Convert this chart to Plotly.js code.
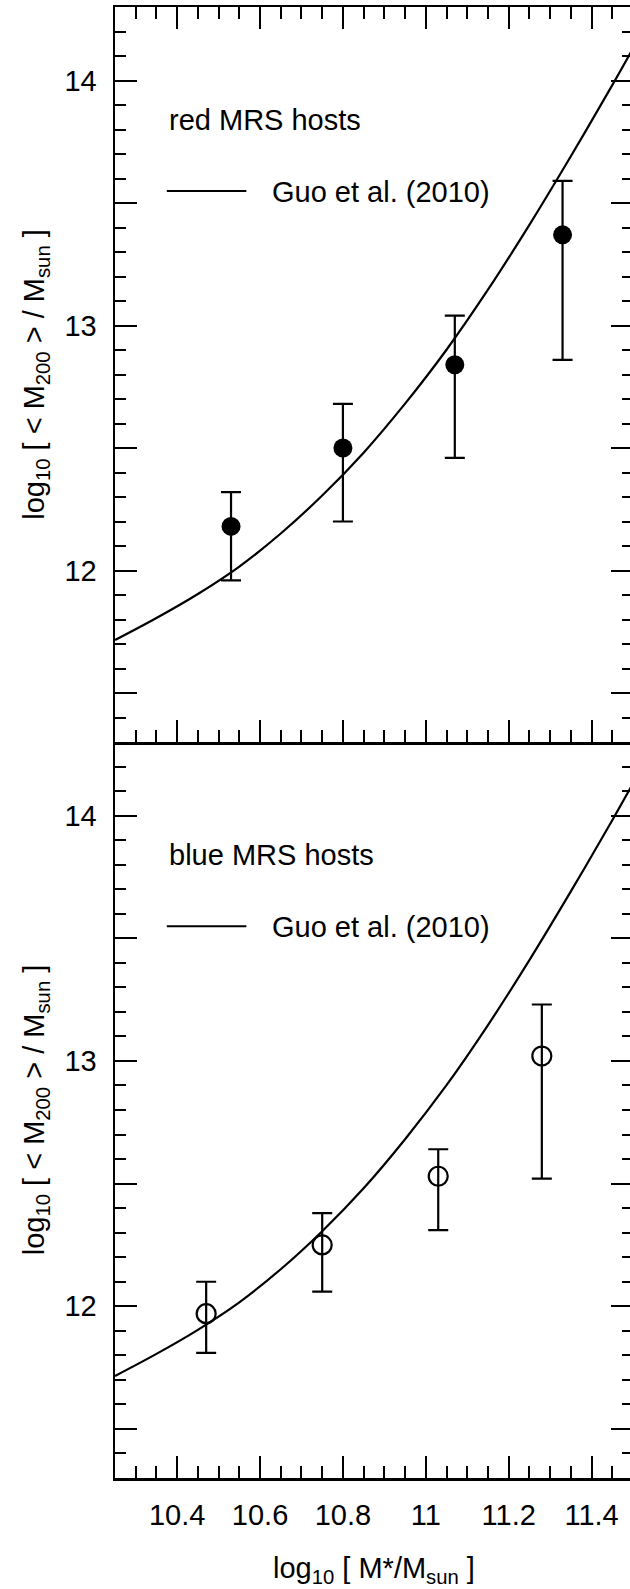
<!DOCTYPE html>
<html>
<head>
<meta charset="utf-8">
<script src="https://cdn.plot.ly/plotly-3.0.1.min.js"></script>
<style>
  html, body { margin: 0; padding: 0; background: #fff; overflow: hidden; }
  #chart { width: 640px; height: 1589px; }
</style>
</head>
<body>
<div id="chart"></div>
<script>
// ---- data ----
const redX  = [10.53, 10.80, 11.07, 11.33];
const redY  = [12.18, 12.50, 12.84, 13.37];
const redHi = [12.32, 12.68, 13.04, 13.59];
const redLo = [11.96, 12.20, 12.46, 12.86];

const blueX  = [10.47, 10.75, 11.03, 11.28];
const blueY  = [11.97, 12.25, 12.53, 13.02];
const blueHi = [12.10, 12.38, 12.64, 13.23];
const blueLo = [11.81, 12.06, 12.31, 12.52];

// Guo et al. (2010) relation
const guoX = [10.25, 10.35, 10.45, 10.55, 10.65, 10.75, 10.85, 10.95, 11.05, 11.15, 11.25, 11.35, 11.45, 11.50];
const guoY = [11.716, 11.806, 11.904, 12.016, 12.151, 12.306, 12.481, 12.681, 12.901, 13.146, 13.411, 13.691, 13.981, 14.131];

const xTickVals = [10.4, 10.6, 10.8, 11.0, 11.2, 11.4];
const xTickText = ['10.4', '10.6', '10.8', '11', '11.2', '11.4'];
const yTickVals = [11.5, 12, 12.5, 13, 13.5, 14];
const yTickText = ['', '12', '', '13', '', '14'];

const panelLabels = ['red MRS hosts', 'blue MRS hosts'];
const legendLabel = 'Guo et al. (2010)';
const xTitle = 'log<sub>10</sub> [ M*/M<sub>sun</sub> ]';
const yTitle = 'log<sub>10</sub> [ &lt; M<sub>200</sub> &gt; / M<sub>sun</sub> ]';

// ---- styling ----
const FONT = 'Liberation Sans, Arial, Helvetica, sans-serif';
const FS = 29;
const xRange = [10.25, 11.5];
const yRange = [11.3, 14.3];

function up(y, hi) { return hi.map((h, i) => h - y[i]); }
function dn(y, lo) { return lo.map((l, i) => y[i] - l); }

const errStyle = { type: 'data', symmetric: false, color: 'black', thickness: 2.2, width: 10 };
const curveLine = { color: 'black', width: 2.2, shape: 'spline', smoothing: 1 };

const traces = [
  { x: guoX, y: guoY, xaxis: 'x', yaxis: 'y', mode: 'lines', line: curveLine, hoverinfo: 'skip' },
  { x: redX, y: redY, xaxis: 'x', yaxis: 'y', mode: 'markers',
    marker: { symbol: 'circle', size: 19, color: 'black' },
    error_y: Object.assign({ array: up(redY, redHi), arrayminus: dn(redY, redLo) }, errStyle) },
  { x: guoX, y: guoY, xaxis: 'x2', yaxis: 'y2', mode: 'lines', line: curveLine, hoverinfo: 'skip' },
  { x: blueX, y: blueY, xaxis: 'x2', yaxis: 'y2', mode: 'markers',
    marker: { symbol: 'circle-open', size: 19, color: 'black', line: { color: 'black', width: 2.2 } },
    error_y: Object.assign({ array: up(blueY, blueHi), arrayminus: dn(blueY, blueLo) }, errStyle) }
];

const tickFont = { family: FONT, size: FS, color: 'black' };

function xAxis(anchor, showLabels, mirror) {
  return {
    anchor: anchor, range: xRange, showgrid: false, zeroline: false,
    showline: true, linecolor: 'black', linewidth: 2.5, mirror: mirror,
    ticks: 'inside', ticklen: 22, tickwidth: 2, tickcolor: 'black',
    tickmode: 'array', tickvals: xTickVals, ticktext: xTickText,
    showticklabels: showLabels, tickfont: tickFont, ticklabelstandoff: 10,
    minor: { tickmode: 'linear', tick0: 10.4, dtick: 0.05, ticks: 'inside', ticklen: 12, tickwidth: 2, tickcolor: 'black', showgrid: false }
  };
}
function yAxis(anchor, domain) {
  return {
    anchor: anchor, domain: domain, range: yRange, showgrid: false, zeroline: false,
    showline: true, linecolor: 'black', linewidth: 2.5, mirror: 'ticks',
    ticks: 'inside', ticklen: 22, tickwidth: 2, tickcolor: 'black',
    tickmode: 'array', tickvals: yTickVals, ticktext: yTickText,
    tickfont: tickFont, ticklabelstandoff: 10,
    minor: { tickmode: 'linear', tick0: 11.3, dtick: 0.1, ticks: 'inside', ticklen: 11, tickwidth: 2, tickcolor: 'black', showgrid: false },
    title: { text: yTitle, font: { family: FONT, size: FS, color: 'black' }, standoff: 12 }
  };
}

const split = 736 / 1471;

const xa = xAxis('y', false, 'ticks');
const xa2 = xAxis('y2', true, false);

const annotations = [];
const shapes = [];
[['x', 'y'], ['x2', 'y2']].forEach((ref, i) => {
  annotations.push({ xref: ref[0], yref: ref[1], x: 10.375, y: 13.839, xanchor: 'left', yanchor: 'middle',
    text: panelLabels[i], showarrow: false, font: { family: FONT, size: FS, color: 'black' } });
  annotations.push({ xref: ref[0], yref: ref[1], x: 10.625, y: 13.546, xanchor: 'left', yanchor: 'middle',
    text: legendLabel, showarrow: false, font: { family: FONT, size: FS, color: 'black' } });
  shapes.push({ type: 'line', xref: ref[0], yref: ref[1], x0: 10.375, x1: 10.567, y0: 13.549, y1: 13.549,
    line: { color: 'black', width: 2 } });
});
annotations.push({ xref: 'paper', yref: 'paper', x: 0.5, y: -0.0625, xanchor: 'center', yanchor: 'middle',
  text: xTitle, showarrow: false, font: { family: FONT, size: FS, color: 'black' } });

const layout = {
  width: 640, height: 1589,
  margin: { l: 115, r: 7, t: 7, b: 111 },
  paper_bgcolor: 'white', plot_bgcolor: 'white',
  showlegend: false,
  font: { family: FONT, size: FS, color: 'black' },
  xaxis: xa,
  xaxis2: xa2,
  yaxis: yAxis('x', [split, 1]),
  yaxis2: yAxis('x2', [0, split]),
  annotations: annotations,
  shapes: shapes
};

Plotly.newPlot('chart', traces, layout, { displayModeBar: false, staticPlot: true });
</script>
</body>
</html>
